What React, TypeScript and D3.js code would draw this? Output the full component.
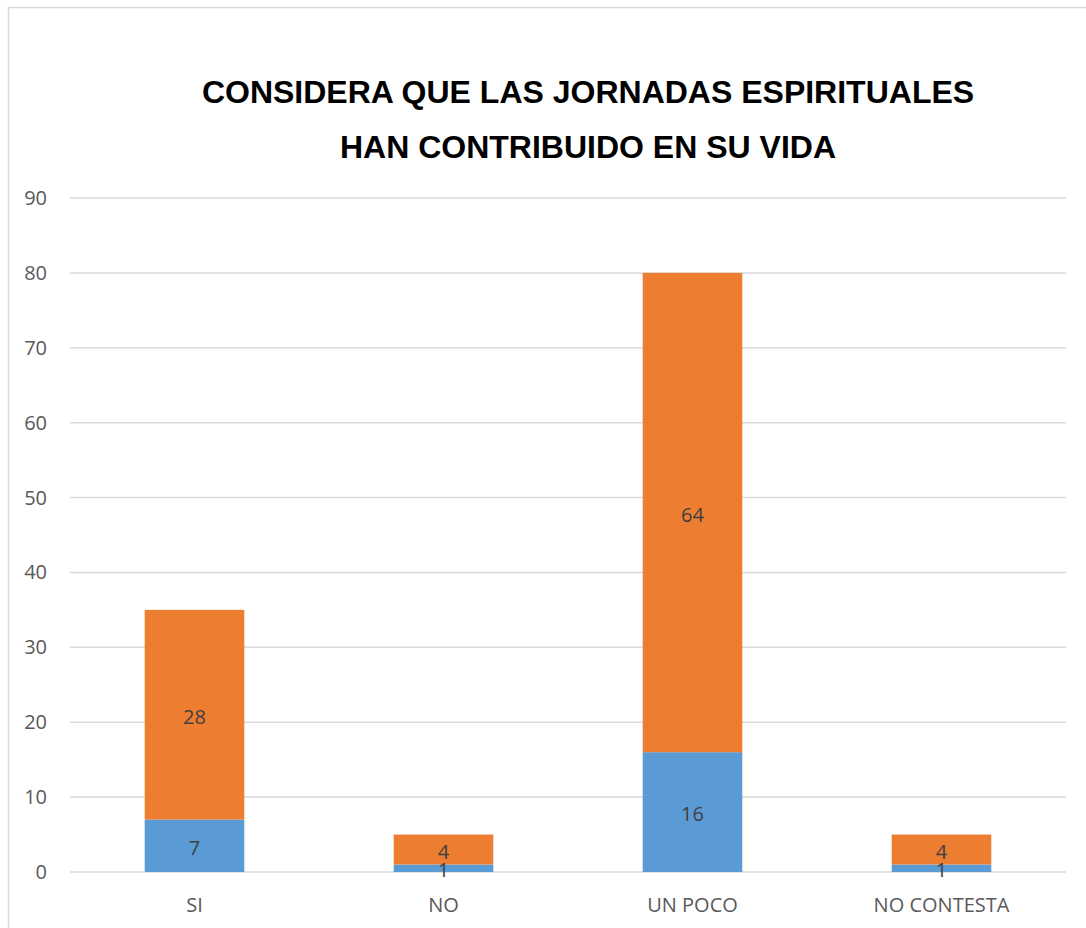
import React, { useEffect, useRef } from 'react';
import * as d3 from 'd3';

const categories = ['SI', 'NO', 'UN POCO', 'NO CONTESTA'];
const serie1 = [7, 1, 16, 1];
const serie2 = [28, 4, 64, 4];
const yTicks = [0, 10, 20, 30, 40, 50, 60, 70, 80, 90];
const titleLines = ['CONSIDERA QUE LAS JORNADAS ESPIRITUALES', 'HAN CONTRIBUIDO EN SU VIDA'];

const width = 1086;
const height = 928;

const App = () => {
  const svgRef = useRef<SVGSVGElement>(null);

  useEffect(() => {
    const svg = d3.select(svgRef.current);
    svg.selectAll('*').remove();

    const margin = { top: 198, right: 20, bottom: 56, left: 70 };
    const innerW = width - margin.left - margin.right;
    const innerH = height - margin.top - margin.bottom;

    // marco del gráfico
    svg.append('rect')
      .attr('x', 8.5)
      .attr('y', 7.5)
      .attr('width', width)
      .attr('height', height)
      .attr('fill', 'white')
      .attr('stroke', '#d9d9d9')
      .attr('stroke-width', 1.5);

    svg.append('g')
      .selectAll('text')
      .data(titleLines)
      .enter()
      .append('text')
      .attr('x', 588)
      .attr('y', (_, i) => 103 + i * 55)
      .attr('text-anchor', 'middle')
      .style('font-family', '"Liberation Sans", Arial, sans-serif')
      .style('font-weight', 'bold')
      .style('font-size', '32px')
      .style('fill', '#000')
      .text((d) => d);

    const g = svg.append('g').attr('transform', `translate(${margin.left},${margin.top})`);

    const x = d3.scaleBand<string>()
      .domain(categories)
      .range([0, innerW])
      .paddingInner(0.6)
      .paddingOuter(0.3);

    const y = d3.scaleLinear().domain([0, 90]).range([innerH, 0]);

    // líneas de cuadrícula
    g.selectAll('line.grid')
      .data(yTicks)
      .enter()
      .append('line')
      .attr('class', 'grid')
      .attr('x1', 0)
      .attr('x2', innerW)
      .attr('y1', (d) => y(d))
      .attr('y2', (d) => y(d))
      .attr('stroke', '#d9d9d9')
      .attr('stroke-width', 1.5);

    g.selectAll('text.ytick')
      .data(yTicks)
      .enter()
      .append('text')
      .attr('class', 'ytick')
      .attr('x', -23)
      .attr('y', (d) => y(d))
      .attr('dy', '0.35em')
      .attr('text-anchor', 'end')
      .style('font-family', '"Open Sans", sans-serif')
      .style('font-size', '20px')
      .style('fill', '#595959')
      .text((d) => d);

    const stacked = categories.map((c, i) => ({ cat: c, a: serie1[i], b: serie2[i] }));
    const stack = d3.stack<any>().keys(['a', 'b'])(stacked);
    const colors = ['#5b9bd5', '#ed7d31'];

    stack.forEach((layer, li) => {
      g.selectAll(`rect.s${li}`)
        .data(layer)
        .enter()
        .append('rect')
        .attr('class', `s${li}`)
        .attr('x', (d) => x(d.data.cat)!)
        .attr('width', x.bandwidth())
        .attr('y', (d) => y(d[1]))
        .attr('height', (d) => y(d[0]) - y(d[1]))
        .attr('fill', colors[li]);
    });

    stack.forEach((layer, li) => {
      g.selectAll(`text.l${li}`)
        .data(layer)
        .enter()
        .append('text')
        .attr('class', `l${li}`)
        .attr('x', (d) => x(d.data.cat)! + x.bandwidth() / 2)
        .attr('y', (d) => (y(d[0]) + y(d[1])) / 2 + 2)
        .attr('dy', '0.35em')
        .attr('text-anchor', 'middle')
        .style('font-family', '"Open Sans", sans-serif')
        .style('font-size', '20px')
        .style('fill', '#404040')
        .text((d) => d[1] - d[0]);
    });

    g.selectAll('text.xcat')
      .data(categories)
      .enter()
      .append('text')
      .attr('class', 'xcat')
      .attr('x', (d) => x(d)! + x.bandwidth() / 2)
      .attr('y', innerH + 33)
      .attr('dy', '0.35em')
      .attr('text-anchor', 'middle')
      .style('font-family', '"Open Sans", sans-serif')
      .style('font-size', '20px')
      .style('fill', '#595959')
      .text((d) => d);
  }, []);

  return (
    <svg
      ref={svgRef}
      width={width}
      height={height}
      style={{ position: 'absolute', left: 0, top: 0 }}
    />
  );
};

export default App;
